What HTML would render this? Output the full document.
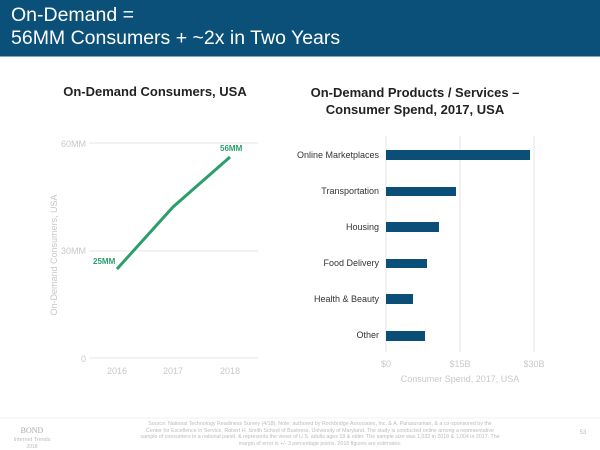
<!DOCTYPE html>
<html><head><meta charset="utf-8"><style>
body{margin:0;width:600px;height:450px;background:#fff;overflow:hidden;font-family:"Liberation Sans",Arial,sans-serif;position:relative}
.hdr{position:absolute;left:0;top:0;width:600px;height:56px;background:#0b5079;border-bottom:1px solid #7fa7c2}
.hdr div{position:absolute;left:11px;color:#fff;font-size:19.5px;line-height:22px}
.t{position:absolute;font-weight:bold;font-size:13px;color:#222;text-align:center}
.lbl{position:absolute;font-size:9.5px;color:#333;text-align:right;width:120px}
.g{color:#c8c8c8}
.f{position:absolute;font-size:5.3px;color:#bbb;line-height:6.6px;text-align:center}
</style></head><body>
<div class="hdr"><div style="top:4px">On-Demand =</div><div style="top:27px">56MM Consumers + ~2x in Two Years</div></div>
<div class="t" style="left:40px;width:230px;top:84px">On-Demand Consumers, USA</div>
<div class="t" style="left:295px;width:240px;top:84px;line-height:17px">On-Demand Products / Services –<br>Consumer Spend, 2017, USA</div>
<svg width="600" height="450" style="position:absolute;left:0;top:0" font-family="Liberation Sans,Arial,sans-serif">
<g stroke="#e6e6e6" stroke-width="1">
<line x1="89" y1="143" x2="258" y2="143"/><line x1="89" y1="251" x2="258" y2="251"/><line x1="89" y1="358" x2="258" y2="358"/>
<line x1="386" y1="136" x2="386" y2="352"/><line x1="460" y1="136" x2="460" y2="352"/><line x1="534" y1="136" x2="534" y2="352"/>
</g>
<g font-size="9" fill="#c8c8c8" text-anchor="end">
<text x="86" y="147">60MM</text><text x="86" y="254">30MM</text><text x="86" y="362">0</text></g>
<g font-size="9" fill="#c8c8c8" text-anchor="middle">
<text x="117" y="374">2016</text><text x="173" y="374">2017</text><text x="230" y="374">2018</text>
<text x="386" y="367">$0</text><text x="460" y="367">$15B</text><text x="534" y="367">$30B</text>
<text x="460" y="382">Consumer Spend, 2017, USA</text>
<text transform="translate(57,255) rotate(-90)">On-Demand Consumers, USA</text></g>
<polyline points="117,269 173,207 230,157" fill="none" stroke="#2a9f6a" stroke-width="3"/>
<g font-size="8" font-weight="bold" fill="#2a9f6a"><text x="93" y="264">25MM</text><text x="220" y="151">56MM</text></g>
<g fill="#0b4e78">
<rect x="386" y="150" width="144" height="10"/><rect x="386" y="187" width="70" height="9"/>
<rect x="386" y="222" width="53" height="10"/><rect x="386" y="259" width="41" height="9"/>
<rect x="386" y="294" width="27" height="10"/><rect x="386" y="331" width="39" height="10"/></g>
<g font-size="9" fill="#333" text-anchor="end">
<text x="379" y="158">Online Marketplaces</text><text x="379" y="194">Transportation</text>
<text x="379" y="230">Housing</text><text x="379" y="266">Food Delivery</text>
<text x="379" y="302">Health &amp; Beauty</text><text x="379" y="338">Other</text></g>
<line x1="0" y1="418" x2="600" y2="418" stroke="#f0f0f0"/>
<text x="32" y="433" font-size="8" fill="#aaa" font-family="Liberation Serif,serif" text-anchor="middle">BOND</text>
<text x="32" y="441" font-size="5.5" fill="#bbb" text-anchor="middle">Internet Trends</text>
<text x="32" y="448" font-size="5" fill="#bbb" text-anchor="middle">2018</text>
<text x="583" y="434" font-size="6" fill="#bbb" text-anchor="middle">53</text>
</svg>
<div class="f" style="left:140px;width:360px;top:421px">Source: National Technology Readiness Survey (4/18). Note: authored by Rockbridge Associates, Inc. &amp; A. Parasuraman, &amp; a co-sponsored by the Center for Excellence in Service, Robert H. Smith School of Business, University of Maryland. The study is conducted online among a representative sample of consumers in a national panel, &amp; represents the views of U.S. adults ages 18 &amp; older. The sample size was 1,032 in 2018 &amp; 1,004 in 2017. The margin of error is +/- 3 percentage points. 2018 figures are estimates.</div>
</body></html>
